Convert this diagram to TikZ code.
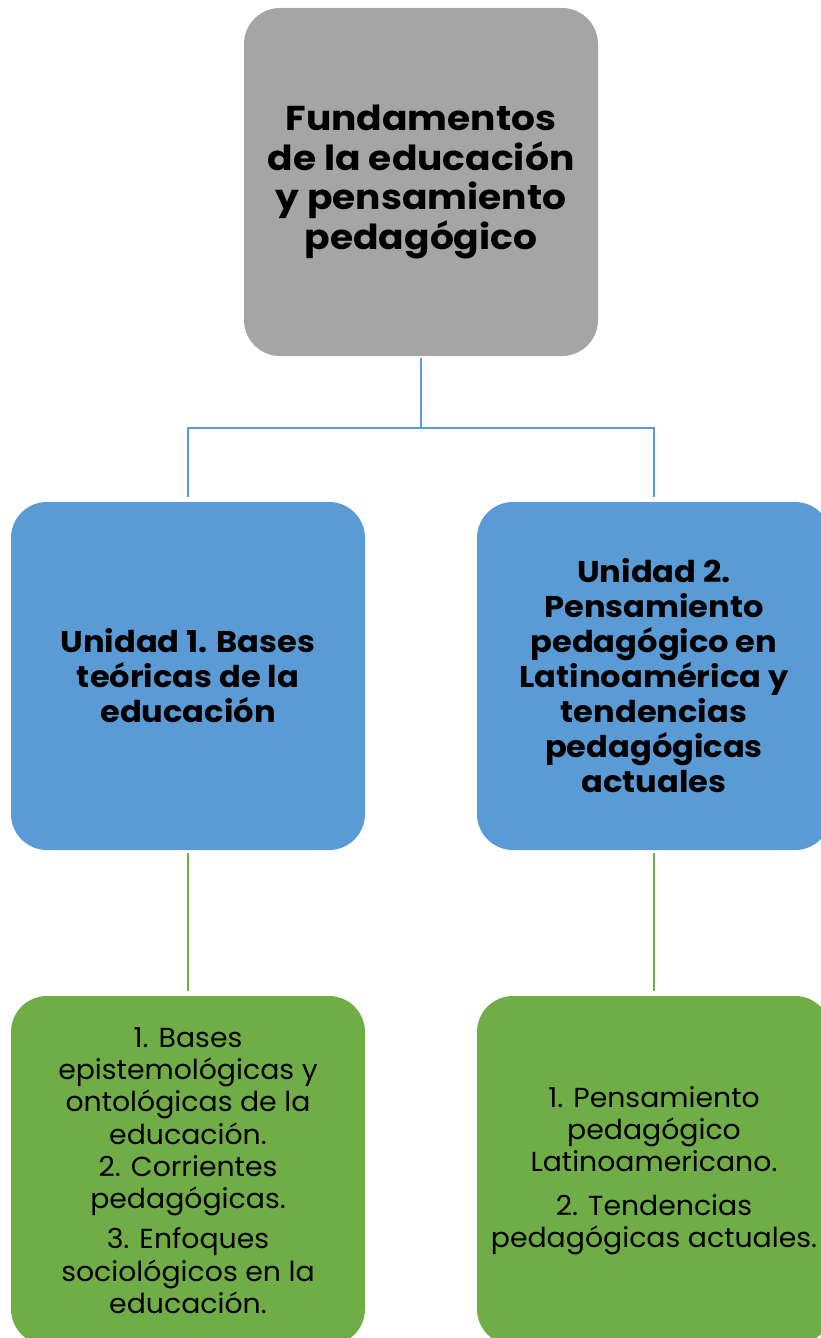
\documentclass[tikz,border=0pt]{standalone}
\usepackage{fontspec}
\setmainfont{Poppins}
\definecolor{boxgray}{HTML}{A5A5A5}
\definecolor{boxblue}{HTML}{5B9BD5}
\definecolor{boxgreen}{HTML}{70AD47}
\begin{document}
\begin{tikzpicture}[x=1pt,y=-1pt,
  card/.style={rounded corners=36pt, minimum width=354pt, inner sep=0pt, align=center, text=black},
  topcard/.style={card, fill=boxgray, minimum height=348pt, font=\bfseries\fontsize{34.5}{39.5}\selectfont\addfontfeature{FakeStretch=1.09}},
  unitcard/.style={card, fill=boxblue, minimum height=348pt, font=\bfseries\fontsize{30}{35}\selectfont\addfontfeature{FakeStretch=1.07}},
  itemcard/.style={card, fill=boxgreen, minimum height=349pt, font=\fontsize{27.5}{32.3}\selectfont\addfontfeature{FakeStretch=1.03}},
  bline/.style={draw=boxblue, line width=2.2pt},
  gline/.style={draw=boxgreen, line width=2.2pt}]
\useasboundingbox (0,0) rectangle (820,1338);
\node[topcard] (top) at (421,182) {Fundamentos\\de la educación\\y pensamiento\\pedagógico};
\node[unitcard] (u1) at (188,676) {Unidad 1. Bases\\teóricas de la\\educación};
\node[unitcard] (u2) at (654,676) {Unidad 2.\\Pensamiento\\pedagógico en\\Latinoamérica y\\tendencias\\pedagógicas\\actuales};
\node[itemcard] (g1) at (188,1170.5) {1. Bases\\epistemológicas y\\ontológicas de la\\educación.\\2. Corrientes\\pedagógicas.\\[8pt]3. Enfoques\\sociológicos en la\\educación.};
\node[itemcard] (g2) at (654,1170.5) {1. Pensamiento\\pedagógico\\Latinoamericano.\\[11pt]2. Tendencias\\pedagógicas actuales.};
\coordinate (j) at (421,428);
\draw[bline] ([yshift=-2pt]top.south) -- (j);
\draw[bline] ([yshift=5pt]u1.north) |- (j) -| ([yshift=5pt]u2.north);
\draw[gline] ([yshift=-3pt]u1.south) -- ([yshift=5pt]g1.north);
\draw[gline] ([yshift=-3pt]u2.south) -- ([yshift=5pt]g2.north);
\end{tikzpicture}
\end{document}
